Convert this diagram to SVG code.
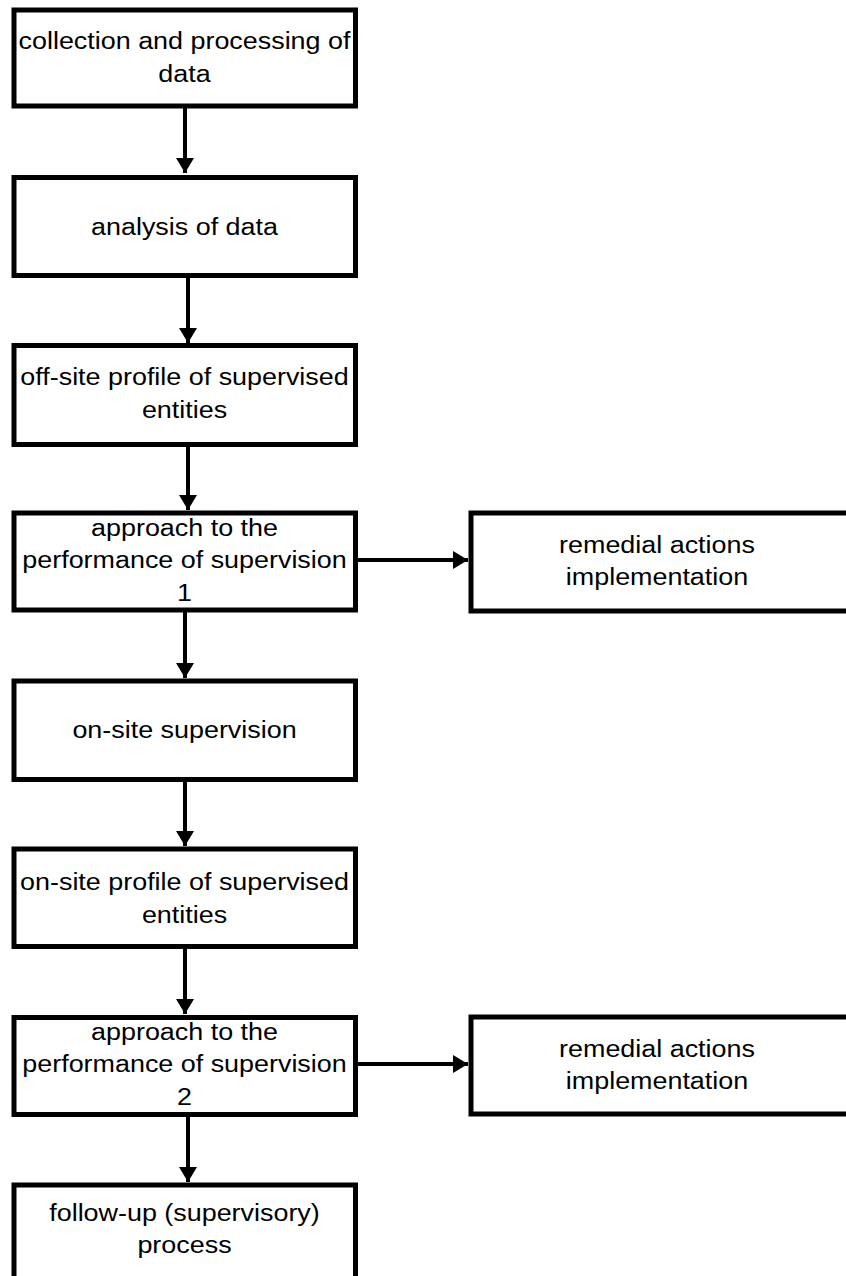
<svg xmlns="http://www.w3.org/2000/svg" width="846" height="1276" viewBox="0 0 846 1276">
<style>
.box{fill:#fff;stroke:#000;stroke-width:5}
.t{font-family:"Liberation Sans",Arial,sans-serif;font-size:23px;fill:#000;text-anchor:middle}
.c{stroke:#000;stroke-width:4;fill:none}
</style>
<defs>
<marker id="ah" markerUnits="userSpaceOnUse" markerWidth="18" markerHeight="18" viewBox="0 0 15 18" refX="15" refY="9" orient="auto">
<path d="M0,0 L15,9 L0,18 Z" fill="#000"/>
</marker>
</defs>
<rect width="846" height="1276" fill="#fff"/>
<g id="connectors">
<line class="c" x1="185" y1="106" x2="185" y2="173" marker-end="url(#ah)"/>
<line class="c" x1="188" y1="275" x2="188" y2="343" marker-end="url(#ah)"/>
<line class="c" x1="188" y1="444" x2="188" y2="510" marker-end="url(#ah)"/>
<line class="c" x1="185" y1="610" x2="185" y2="678" marker-end="url(#ah)"/>
<line class="c" x1="185" y1="779" x2="185" y2="846" marker-end="url(#ah)"/>
<line class="c" x1="185" y1="946" x2="185" y2="1014" marker-end="url(#ah)"/>
<line class="c" x1="188" y1="1114" x2="188" y2="1182" marker-end="url(#ah)"/>
<line class="c" x1="356" y1="560" x2="468" y2="560" marker-end="url(#ah)"/>
<line class="c" x1="356" y1="1064" x2="468" y2="1064" marker-end="url(#ah)"/>
</g>
<g id="n1"><rect class="box" x="14" y="10" width="341.5" height="96"/>
<text class="t" transform="translate(184.5,49) scale(1.17,1)">collection and processing of</text>
<text class="t" transform="translate(184.5,82) scale(1.17,1)">data</text></g>
<g id="n2"><rect class="box" x="14" y="177.5" width="341.5" height="98"/>
<text class="t" transform="translate(184.5,235) scale(1.17,1)">analysis of data</text></g>
<g id="n3"><rect class="box" x="14" y="345.5" width="341.5" height="99"/>
<text class="t" transform="translate(184.5,385) scale(1.17,1)">off-site profile of supervised</text>
<text class="t" transform="translate(184.5,418) scale(1.17,1)">entities</text></g>
<g id="n4"><rect class="box" x="14" y="513" width="341.5" height="97"/>
<text class="t" transform="translate(184.5,536) scale(1.17,1)">approach to the</text>
<text class="t" transform="translate(184.5,568) scale(1.17,1)">performance of supervision</text>
<text class="t" transform="translate(184.5,601) scale(1.17,1)">1</text></g>
<g id="r1"><rect class="box" x="471" y="513" width="380" height="98"/>
<text class="t" transform="translate(657,553) scale(1.17,1)">remedial actions</text>
<text class="t" transform="translate(657,585) scale(1.17,1)">implementation</text></g>
<g id="n5"><rect class="box" x="14" y="681" width="341.5" height="98.5"/>
<text class="t" transform="translate(184.5,738) scale(1.17,1)">on-site supervision</text></g>
<g id="n6"><rect class="box" x="14" y="849" width="341.5" height="97.5"/>
<text class="t" transform="translate(184.5,890) scale(1.17,1)">on-site profile of supervised</text>
<text class="t" transform="translate(184.5,923) scale(1.17,1)">entities</text></g>
<g id="n7"><rect class="box" x="14" y="1017.5" width="341.5" height="97"/>
<text class="t" transform="translate(184.5,1040) scale(1.17,1)">approach to the</text>
<text class="t" transform="translate(184.5,1072) scale(1.17,1)">performance of supervision</text>
<text class="t" transform="translate(184.5,1105) scale(1.17,1)">2</text></g>
<g id="r2"><rect class="box" x="471" y="1017" width="380" height="97"/>
<text class="t" transform="translate(657,1057) scale(1.17,1)">remedial actions</text>
<text class="t" transform="translate(657,1089) scale(1.17,1)">implementation</text></g>
<g id="n8"><rect class="box" x="14" y="1185" width="341.5" height="97"/>
<text class="t" transform="translate(184.5,1221) scale(1.17,1)">follow-up (supervisory)</text>
<text class="t" transform="translate(184.5,1253) scale(1.17,1)">process</text></g>
</svg>
